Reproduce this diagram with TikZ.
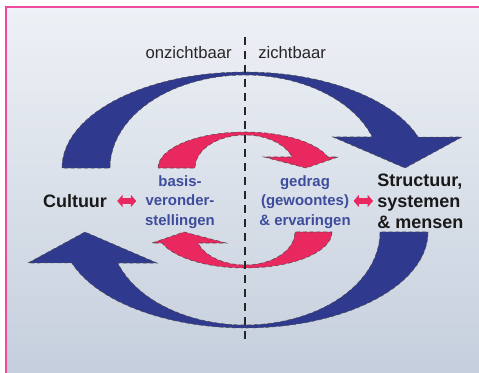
\documentclass[tikz,border=0pt]{standalone}
\usepackage{fontspec}
\setmainfont{Liberation Sans}
\usepackage{tikz}
\usetikzlibrary{arrows.meta,calc}
\definecolor{ArcBlue}{HTML}{2F3A8F}
\definecolor{ArcPink}{HTML}{E8285E}
\definecolor{LabelBlue}{HTML}{3E4C9E}
\definecolor{Frame}{HTML}{EE4A9E}
\definecolor{SkyTop}{HTML}{EEF1F6}
\definecolor{SkyBottom}{HTML}{C4CEDC}
\tikzset{
  bluearc/.style={fill=ArcBlue, draw=black!70, line width=0.4pt, densely dashed},
  pinkarc/.style={fill=ArcPink, draw=black!70, line width=0.4pt, densely dashed},
  toplabel/.style={inner sep=0pt, font=\fontsize{12.5}{15}\selectfont, text=black!85},
  sidelabel/.style={inner sep=0pt, align=left, font=\fontsize{13.5}{15.75}\selectfont\bfseries, text=black!90},
  innerlabel/.style={inner sep=0pt, align=center, font=\fontsize{11.2}{14.6}\selectfont\bfseries, text=LabelBlue},
  dbl/.style={{Triangle[width=9pt,length=4pt]}-{Triangle[width=9pt,length=4pt]}, line width=4.5pt, draw=ArcPink},
  divider/.style={draw=black!85, line width=1.9pt, dash pattern=on 6pt off 4.5pt}
}
\begin{document}
\begin{tikzpicture}[x=0.75pt, y=0.75pt]
\useasboundingbox (0,0) rectangle (479,372);
\clip (0,0) rectangle (479,372);
\fill[white] (0,0) rectangle (479,372);
\shade[top color=SkyTop, bottom color=SkyBottom] (6,-10) rectangle (490,365);
\draw[Frame, line width=1.5pt] (6,-10) -- (6,365) -- (490,365);
\foreach \r in {0,180}
  \path[bluearc, rotate around={\r:(245,172)}] (62,204)
    arc[start angle=180, end angle=18.8, x radius=183, y radius=96]
    -- (462,235) -- (405,204) -- (333,235) -- (372.3,235)
    arc[start angle=19.5, end angle=180, x radius=135, y radius=93] -- cycle;
\foreach \r in {0,180}
  \path[pinkarc, rotate around={\r:(245,172)}] (158,204)
    arc[start angle=180, end angle=17.8, x radius=87, y radius=36]
    -- (338,215) -- (306,204) -- (264,215) -- (292.1,215)
    arc[start angle=19.5, end angle=180, x radius=50, y radius=33] -- cycle;
\node[toplabel, anchor=east] (onz) at (232,319) {onzichtbaar};
\node[toplabel, anchor=west] (zicht) at (258,319) {zichtbaar};
\node[sidelabel] (cult) at (75,171) {Cultuur};
\node[sidelabel, anchor=west] (struct) at (377,171) {Structuur,\\systemen\\\& mensen};
\node[innerlabel] (basis) at (180,170) {basis-\\veronder-\\stellingen};
\node[innerlabel] (gedrag) at (305,170) {gedrag\\(gewoontes)\\\& ervaringen};
\draw[dbl, shorten <=7.5pt, shorten >=6.5pt] (cult.east) -- (cult.east -| basis.west);
\draw[dbl, shorten <=2pt, shorten >=3pt] (gedrag.east |- struct.west) -- (struct.west);
\coordinate (dtop) at (245,335);
\coordinate (dbot) at (245,27);
\draw[divider] (dtop) -- (dbot);
\end{tikzpicture}
\end{document}
